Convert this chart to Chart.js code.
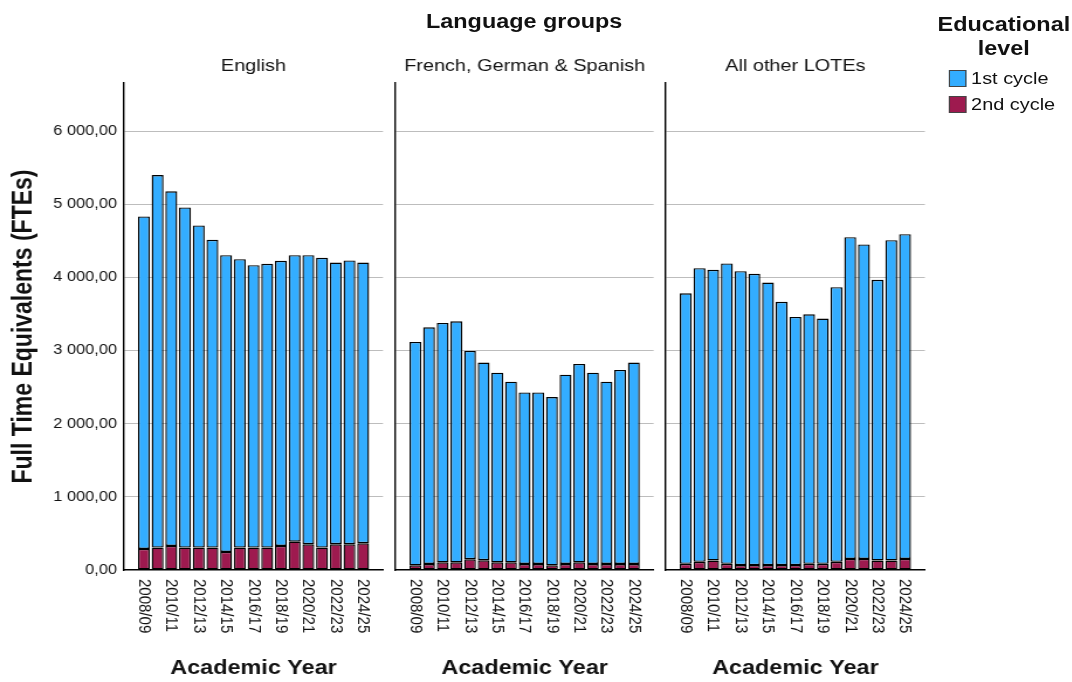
<!DOCTYPE html>
<html>
<head>
<meta charset="utf-8">
<title>Language groups – FTEs by academic year</title>
<script src="https://cdn.jsdelivr.net/npm/chart.js@4.4.0/dist/chart.umd.min.js"></script>
<style>
  body { margin: 0; background: #fff; overflow: hidden; }
  /* the whole figure is drawn narrow and widened a little, like the exported graph */
  #page {
    position: absolute; left: 0; top: 0;
    width: 916px; height: 682px;
    transform: scaleX(1.17); transform-origin: 0 0;
    font-family: 'Liberation Sans', Arial, sans-serif; color: #111;
  }
  #page canvas { position: absolute; top: 0; }
  .txt { position: absolute; white-space: nowrap; }
  #groups { left: 338px; width: 220px; top: 9px; text-align: center; font-weight: bold; font-size: 20px; line-height: 24px; }
  #legTitle { left: 788px; width: 140px; top: 12px; text-align: center; font-weight: bold; font-size: 20px; line-height: 24px; }
  .sw { position: absolute; left: 811px; width: 13px; height: 15px; border: 1px solid #444; }
  .item { left: 830px; font-size: 17px; line-height: 20px; }
</style>
</head>
<body>
<div id="page">
  <div class="txt" id="groups">Language groups</div>
  <div class="txt" id="legTitle">Educational<br>level</div>
  <div class="sw" style="top:70px; background:#33adff"></div>
  <div class="txt item" style="top:69px">1st cycle</div>
  <div class="sw" style="top:96px; background:#9e1a4f"></div>
  <div class="txt item" style="top:95px">2nd cycle</div>
  <canvas id="english"></canvas>
  <canvas id="fgs"></canvas>
  <canvas id="others"></canvas>
</div>
<script>
const years = ['2008/09', '2009/10', '2010/11', '2011/12', '2012/13', '2013/14', '2014/15', '2015/16', '2016/17',
  '2017/18', '2018/19', '2019/20', '2020/21', '2021/22', '2022/23', '2023/24', '2024/25']

const english1st = [4548, 5095, 4849, 4653, 4406, 4210, 4059, 3945, 3863, 3881, 3899, 3918, 3954, 3963, 3853, 3881, 3839]
const english2nd = [288, 306, 329, 306, 306, 306, 247, 306, 306, 306, 329, 388, 352, 306, 352, 352, 366]

const fgs1st = [3055, 3237, 3274, 3296, 2849, 2703, 2594, 2470, 2347, 2347, 2302, 2589, 2713, 2617, 2493, 2654, 2754]
const fgs2nd = [64, 82, 105, 105, 147, 133, 105, 105, 82, 82, 64, 82, 105, 82, 82, 82, 82]

const others1st = [3700, 4015, 3975, 4107, 4018, 3982, 3864, 3599, 3393, 3412, 3353, 3756, 4401, 4301, 3838, 4381, 4442]
const others2nd = [85, 112, 130, 85, 68, 68, 68, 68, 68, 85, 85, 112, 151, 151, 130, 130, 151]

const yTicks = [0, 1000, 2000, 3000, 4000, 5000, 6000]

const BLUE = '#33adff'
const MAROON = '#9e1a4f'
const S = 1.17   // horizontal widening of the page
const FONT = "'Liberation Sans', Arial, sans-serif"
// year index range shown on each panel, a little room either side
const X_MIN = -1.45
const X_MAX = 17.45

Chart.defaults.font.family = FONT
Chart.defaults.color = '#111'

// 6000 -> "6 000,00"
function fmt(v) {
    const parts = Number(v).toFixed(2).split('.')
    return parts[0].replace(/\B(?=(\d{3})+(?!\d))/g, ' ') + ',' + parts[1]
}

// rotated year labels, every second year, reading downwards
const yearLabels = {
    id: 'yearLabels',
    afterDraw(chart) {
        const ctx = chart.ctx
        const xs = chart.scales.x
        ctx.save()
        ctx.font = '15px ' + FONT
        ctx.fillStyle = '#111'
        ctx.textAlign = 'left'
        ctx.textBaseline = 'middle'
        years.forEach((y, i) => {
            if (i % 2) return
            ctx.save()
            ctx.translate(xs.getPixelForValue(i), chart.chartArea.bottom + 9)
            ctx.rotate(Math.PI / 2)
            ctx.fillText(y, 0, 0)
            ctx.restore()
        })
        ctx.restore()
    }
}

function makePanel(id, title, first, second, canvasLeft, canvasRight, areaLeft, areaRight, withAxis) {
    const el = document.getElementById(id)
    const w = Math.round((canvasRight - canvasLeft) / S)
    el.width = w
    el.height = 682
    el.style.left = (canvasLeft / S) + 'px'
    const yWidth = (areaLeft - canvasLeft) / S
    const padRight = w - (areaRight - canvasLeft) / S

    return new Chart(el.getContext('2d'), {
        type: 'bar',
        data: {
            datasets: [
                { label: '2nd cycle', data: second.map((v, i) => ({ x: i, y: v })), backgroundColor: MAROON },
                { label: '1st cycle', data: first.map((v, i) => ({ x: i, y: v })), backgroundColor: BLUE }
            ]
        },
        options: {
            responsive: false,
            animation: false,
            layout: { padding: { left: 0, right: padRight, top: 0, bottom: 0 } },
            datasets: {
                bar: { barPercentage: 0.87, categoryPercentage: 1, borderColor: '#000', borderWidth: 1.4, borderSkipped: false }
            },
            plugins: {
                legend: { display: false },
                tooltip: { enabled: false },
                title: {
                    display: true, text: title, fullSize: false, color: '#111',
                    font: { size: 17, weight: 'normal' },
                    padding: { top: 56, bottom: 6.6 }
                }
            },
            scales: {
                x: {
                    type: 'linear', stacked: true, offset: false, bounds: 'data',
                    min: X_MIN, max: X_MAX,
                    afterBuildTicks: s => {
                        s.ticks = []
                        s.min = X_MIN
                        s.max = X_MAX
                    },
                    grid: { display: false, drawTicks: false, offset: false },
                    ticks: { display: false },
                    border: { display: true, color: '#000', width: 1.4 },
                    title: {
                        display: true, text: 'Academic Year', color: '#111',
                        font: { size: 20, weight: 'bold' },
                        padding: { top: 86, bottom: 2 }
                    }
                },
                y: {
                    stacked: true, min: 0, max: 6660,
                    afterBuildTicks: s => { s.ticks = yTicks.map(v => ({ value: v })) },
                    afterFit: s => { s.width = yWidth },
                    grid: {
                        drawTicks: false,
                        color: c => (c.tick && c.tick.value === 0) ? 'rgba(0,0,0,0)' : '#bdbdbd'
                    },
                    border: { color: '#000', width: 1.4 },
                    ticks: { display: withAxis, padding: 6, font: { size: 14 }, color: '#111', callback: fmt },
                    title: {
                        display: withAxis, text: 'Full Time Equivalents (FTEs)', color: '#111',
                        font: { size: 23, weight: 'bold' },
                        padding: { top: 6.7, bottom: 0 }
                    }
                }
            }
        },
        plugins: [yearLabels]
    })
}

makePanel('english', 'English', english1st, english2nd, 0, 388, 124, 383, true)
makePanel('fgs', 'French, German & Spanish', fgs1st, fgs2nd, 390, 660, 396, 654, false)
makePanel('others', 'All other LOTEs', others1st, others2nd, 660, 935, 666, 925, false)
</script>
</body>
</html>
